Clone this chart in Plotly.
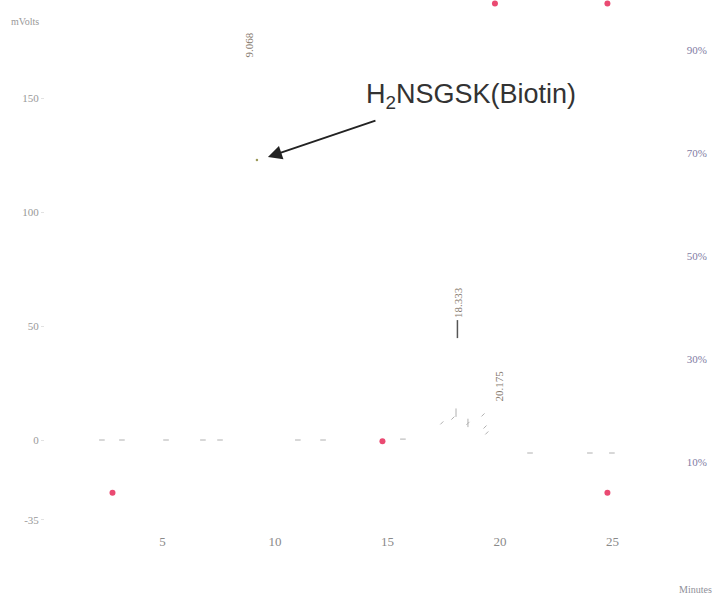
import plotly.graph_objects as go

# ---- data ----
baseline_t = [2.53, 3.42, 5.38, 7.02, 7.78, 11.24, 12.36, 15.91, 21.56, 24.22, 25.2]
baseline_mv = [0, 0, 0, 0, 0, 0, 0, 0.4, -5.7, -5.7, -5.7]

cluster_t = [17.64, 18.13, 18.8, 19.47, 19.56, 19.64]
cluster_mv = [7.5, 9.6, 7.3, 11.0, 5.7, 3.1]

cluster_v_t = [18.27, 18.8]
cluster_v_mv = [12.0, 7.5]

peak_line_t = [18.333, 18.333]
peak_line_mv = [44.7, 52.6]

peak_times = [9.068, 18.333, 20.175]
peak_heights = [166.7, 52.6, 16.2]
peak_labels = ["9.068", "18.333", "20.175"]

grad_t = [3, 15, 20, 25, 25]
grad_pct = [4, 14, 99, 99, 4]

marker_t = [9.42]
marker_mv = [122.8]

x_ticks = [5, 10, 15, 20, 25]
x_ticktext = ["5", "10", "15", "20", "25"]
y_ticks = [-35, 0, 50, 100, 150]
y_ticktext = ["-35", "0", "50", "100", "150"]
y2_ticks = [10, 30, 50, 70, 90]
y2_ticktext = ["10%", "30%", "50%", "70%", "90%"]

compound = "H<sub>2</sub>NSGSK(Biotin)"
arrow_t, arrow_mv = 9.91, 124.1
label_t, label_mv = 18.93, 150.9

serif = "Liberation Serif"

fig = go.Figure()

fig.add_trace(go.Scatter(
    x=baseline_t, y=baseline_mv, mode="markers",
    marker=dict(symbol="line-ew", size=4, line=dict(width=1, color="#b0b0b0")),
    hoverinfo="skip", showlegend=False))

fig.add_trace(go.Scatter(
    x=cluster_t, y=cluster_mv, mode="markers",
    marker=dict(symbol="line-ne", size=3, line=dict(width=1, color="#b0b0b0")),
    hoverinfo="skip", showlegend=False))

fig.add_trace(go.Scatter(
    x=cluster_v_t, y=cluster_v_mv, mode="markers",
    marker=dict(symbol="line-ns", size=6, line=dict(width=1, color="#b0b0b0")),
    hoverinfo="skip", showlegend=False))

fig.add_trace(go.Scatter(
    x=peak_line_t, y=peak_line_mv, mode="lines",
    line=dict(color="#555555", width=1.5),
    hoverinfo="skip", showlegend=False))

fig.add_trace(go.Scatter(
    x=marker_t, y=marker_mv, mode="markers",
    marker=dict(size=2.5, color="#9c9a5a"),
    hoverinfo="skip", showlegend=False))

fig.add_trace(go.Scatter(
    x=grad_t, y=grad_pct, mode="markers", yaxis="y2",
    marker=dict(size=6, color="#ea4a72"),
    cliponaxis=False, hoverinfo="skip", showlegend=False))

for t, h, lab in zip(peak_times, peak_heights, peak_labels):
    fig.add_annotation(x=t, y=h, text=lab, showarrow=False, textangle=-90,
                       xanchor="center", yanchor="bottom",
                       font=dict(family=serif, size=11, color="#85786c"))

fig.add_annotation(x=arrow_t, y=arrow_mv, text="", showarrow=True,
                   ax=109, ay=-37, arrowhead=2, arrowsize=1.4, arrowwidth=2,
                   arrowcolor="#222222", standoff=0)

fig.add_annotation(x=label_t, y=label_mv, text=compound, showarrow=False,
                   xanchor="center", yanchor="middle",
                   font=dict(family="Liberation Sans", size=27, color="#333333"))

fig.add_annotation(xref="paper", yref="paper", x=-0.03, y=0.959, text="mVolts",
                   showarrow=False, xanchor="center", yanchor="middle",
                   font=dict(family=serif, size=10, color="#999999"))

fig.add_annotation(xref="paper", yref="paper", x=1.006, y=-0.109, text="Minutes",
                   showarrow=False, xanchor="right", yanchor="middle",
                   font=dict(family=serif, size=10, color="#8f8f99"))

fig.update_layout(
    width=714, height=597,
    margin=dict(l=45, r=4, t=0, b=65),
    paper_bgcolor="white", plot_bgcolor="white",
    xaxis=dict(range=[0, 29.56], tickvals=x_ticks, ticktext=x_ticktext,
               showgrid=False, zeroline=False, showline=False, ticks="",
               ticklabelshift=5,
               tickfont=dict(family=serif, size=13, color="#8a8a8a")),
    yaxis=dict(range=[-40.35, 193], tickvals=y_ticks, ticktext=y_ticktext,
               showgrid=False, zeroline=False, showline=False,
               ticks="outside", ticklen=3, tickcolor="#e2e2e2",
               tickfont=dict(family=serif, size=11, color="#999999")),
    yaxis2=dict(range=[-3.6, 99.7], overlaying="y", side="right",
                tickvals=y2_ticks, ticktext=y2_ticktext,
                showgrid=False, zeroline=False, showline=False, ticks="",
                ticklabelposition="inside",
                tickfont=dict(family=serif, size=11, color="#7f7ca3")),
)

fig.write_html("out.html", config={"displayModeBar": False},
               post_script="document.body.style.margin='0';")
